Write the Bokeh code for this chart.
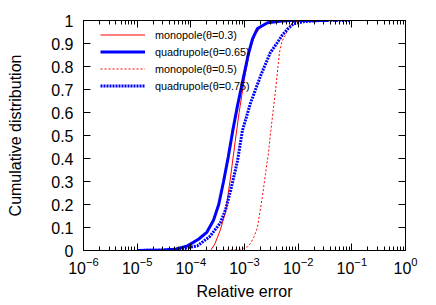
from bokeh.plotting import figure
from bokeh.models import (LogAxis, LinearAxis, FixedTicker, LogTickFormatter,
                          CustomJSTickFormatter, Legend, LegendItem, Range1d)
from bokeh.embed import file_html
from bokeh.resources import INLINE

# ---- data ----
# quadrupole (theta=0.65), solid thick blue
q65_x = [1e-5, 3.16e-5, 5.0e-5, 8.7e-5, 1.41e-4, 2.0e-4, 2.63e-4, 3.31e-4, 4.07e-4,
         5.01e-4, 6.03e-4, 7.41e-4, 9.12e-4, 1.17e-3, 1.41e-3, 1.74e-3, 2.69e-3,
         5.0e-3, 7.24e-3, 3.55e-2]
q65_y = [0.0, 0.002, 0.005, 0.02, 0.05, 0.08, 0.13, 0.20, 0.30,
         0.41, 0.52, 0.63, 0.73, 0.85, 0.92, 0.965, 0.99,
         0.998, 1.0, 1.0]

# quadrupole (theta=0.75), dotted thick blue
q75_x = [1e-5, 3.16e-5, 6.31e-5, 1.32e-4, 2.24e-4, 3.55e-4, 4.47e-4, 5.5e-4, 7.41e-4,
         9.12e-4, 1.29e-3, 2.0e-3, 3.02e-3, 3.98e-3, 5.01e-3, 6.31e-3, 8.13e-3,
         1.26e-2, 2.51e-2, 9.33e-2]
q75_y = [0.0, 0.002, 0.006, 0.02, 0.06, 0.12, 0.18, 0.26, 0.39,
         0.52, 0.64, 0.76, 0.86, 0.90, 0.935, 0.962, 0.985,
         0.995, 1.0, 1.0]

# monopole (theta=0.3), solid thin red
m03_x = [2.34e-4, 2.82e-4, 3.55e-4, 4.47e-4, 5.5e-4, 6.76e-4, 7.94e-4, 1.0e-3,
         1.26e-3, 1.58e-3, 2.0e-3, 2.82e-3, 5.01e-3, 1.0e-2]
m03_y = [0.0, 0.03, 0.09, 0.17, 0.32, 0.48, 0.60, 0.75,
         0.87, 0.94, 0.97, 0.99, 1.0, 1.0]

# monopole (theta=0.5), dotted thin red
m05_x = [3.31e-4, 7.94e-4, 1.12e-3, 1.29e-3, 1.51e-3, 1.74e-3, 2.14e-3, 2.45e-3,
         2.82e-3, 3.02e-3, 3.39e-3, 3.8e-3, 4.17e-3, 4.47e-3, 5.01e-3, 5.75e-3,
         6.76e-3, 7.76e-3, 1.1e-2, 3.16e-2]
m05_y = [0.0, 0.004, 0.015, 0.03, 0.06, 0.10, 0.23, 0.33,
         0.43, 0.50, 0.60, 0.70, 0.79, 0.86, 0.91, 0.935,
         0.97, 0.99, 1.0, 1.0]

x_major = [1e-6, 1e-5, 1e-4, 1e-3, 1e-2, 1e-1, 1.0]
x_minor = [k * 10.0 ** d for d in range(-6, 0) for k in range(2, 10)]
y_major = [0.0, 0.1, 0.2, 0.3, 0.4, 0.5, 0.6, 0.7, 0.8, 0.9, 1.0]

labels = ["monopole(\u03b8=0.3)", "quadrupole(\u03b8=0.65)",
          "monopole(\u03b8=0.5)", "quadrupole(\u03b8=0.75)"]

FONT = "Liberation Sans"

p = figure(x_axis_type="log", output_backend="svg", toolbar_location=None,
           frame_width=322, frame_height=230,
           x_range=Range1d(1e-6, 1.0), y_range=Range1d(0.0, 1.0),
           min_border_left=83, min_border_right=31, min_border_top=20,
           min_border_bottom=55, x_axis_location=None, y_axis_location=None)
p.background_fill_color = "white"
p.border_fill_color = "white"
p.outline_line_color = "black"
p.outline_line_width = 1
p.xgrid.visible = False
p.ygrid.visible = False

xt = FixedTicker(ticks=x_major, minor_ticks=x_minor)
yt = FixedTicker(ticks=y_major)


def style(ax):
    ax.axis_line_color = "black"
    ax.major_tick_line_color = "black"
    ax.minor_tick_line_color = "black"
    ax.major_tick_in = 7
    ax.major_tick_out = 0
    ax.minor_tick_in = 4
    ax.minor_tick_out = 0
    ax.major_label_text_font = FONT
    ax.major_label_text_font_size = "16px"
    ax.major_label_text_color = "black"
    ax.axis_label_text_font = FONT
    ax.axis_label_text_font_size = "16px"
    ax.axis_label_text_font_style = "normal"
    ax.axis_label_text_color = "black"


xb = LogAxis(ticker=xt, formatter=LogTickFormatter(), axis_label="Relative error")
style(xb)
xb.major_label_standoff = 6
xb.axis_label_standoff = 6
p.add_layout(xb, "below")

xa = LogAxis(ticker=xt, formatter=CustomJSTickFormatter(code="return ''"))
style(xa)
p.add_layout(xa, "above")

yl = LinearAxis(ticker=yt, axis_label="Cumulative distribution",
                formatter=CustomJSTickFormatter(code="return Number(tick.toFixed(1)).toString()"))
style(yl)
yl.minor_tick_line_color = None
yl.major_label_standoff = 10
yl.axis_label_standoff = 24
p.add_layout(yl, "left")

yr = LinearAxis(ticker=yt, formatter=CustomJSTickFormatter(code="return ''"))
style(yr)
yr.minor_tick_line_color = None
p.add_layout(yr, "right")

r1 = p.line(m03_x, m03_y, line_color="#ff0000", line_width=1)
r2 = p.line(q65_x, q65_y, line_color="#0000ff", line_width=3)
r3 = p.line(m05_x, m05_y, line_color="#ff0000", line_width=1, line_dash="2 2")
r4 = p.line(q75_x, q75_y, line_color="#0000ff", line_width=3, line_dash="2 1")

legend = Legend(items=[LegendItem(label=labels[0], renderers=[r1]),
                       LegendItem(label=labels[1], renderers=[r2]),
                       LegendItem(label=labels[2], renderers=[r3]),
                       LegendItem(label=labels[3], renderers=[r4])],
                location=(17, 156))
legend.background_fill_alpha = 0
legend.border_line_color = None
legend.margin = 0
legend.padding = 3
legend.spacing = 0
legend.glyph_width = 45
legend.glyph_height = 17
legend.label_height = 17
legend.label_standoff = 10
legend.label_text_font = FONT
legend.label_text_font_size = "10.8px"
legend.label_text_color = "black"
p.add_layout(legend, "center")

open("out.html", "w").write(file_html(p, INLINE))
